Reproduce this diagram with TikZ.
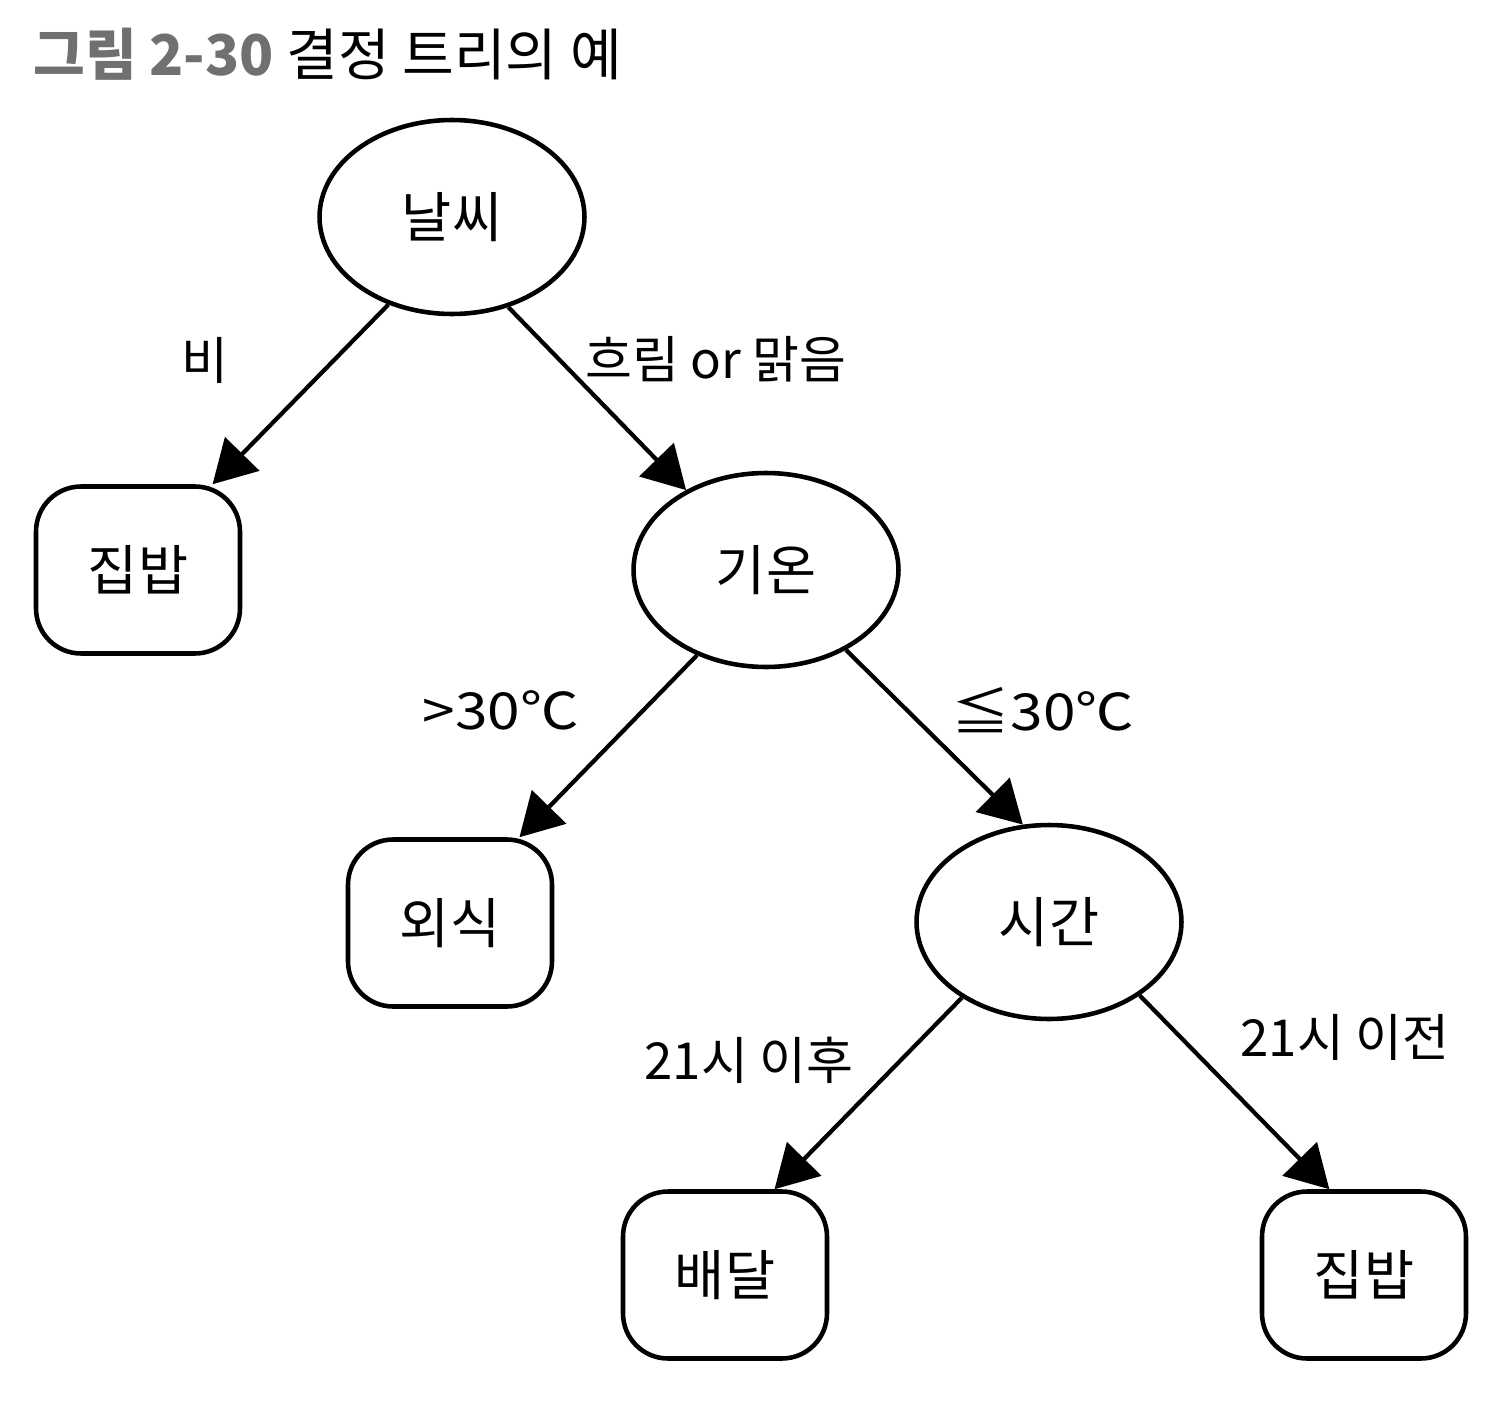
\documentclass[tikz,border=0pt]{standalone}
\usepackage{fontspec}
\setmainfont{Noto Sans CJK KR}
\usetikzlibrary{arrows.meta,shapes.geometric}
\definecolor{titlegray}{RGB}{112,112,112}
\tikzset{
  test/.style={ellipse, draw, line width=2.6pt, inner sep=0pt,
    minimum width=5.3cm, minimum height=3.88cm,
    font=\fontsize{31}{36}\selectfont},
  leaf/.style={rectangle, draw, line width=2.6pt, rounded corners=0.9cm,
    inner sep=0pt, minimum width=4.08cm, minimum height=3.34cm,
    font=\fontsize{31}{36}\selectfont},
  cond/.style={inner sep=0pt, font=\fontsize{29}{33}\selectfont},
  branch/.style={line width=2.4pt, -{Triangle[length=0.85cm,width=0.95cm]}}
}
\begin{document}
\begin{tikzpicture}[x=0.02cm, y=-0.02cm]
  \useasboundingbox (0,0) rectangle (1512,1406);
  \node[anchor=base west, inner sep=0pt, font=\fontsize{32}{36}\selectfont] (title)
    at (33,76) {\textcolor{titlegray}{\textbf{그림 2-30}} 결정 트리의 예};
  \draw
    (452,217) node[test] (0){날씨}
    (138,570) node[leaf] (1){집밥}
    (766,570) node[test] (2){기온}
    (450,923) node[leaf] (3){외식}
    (1049,922) node[test] (4){시간}
    (725,1275) node[leaf] (5){배달}
    (1364,1275) node[leaf] (6){집밥};
  \draw
    (205,360) node[cond] (c1){비}
    (716,359) node[cond] (c2){흐림 or 맑음}
    (501,710) node[cond] (c3){\scalebox{1.15}[1]{>30℃}}
    (1043,710) node[cond] (c4){\scalebox{1.15}[1]{≦30℃}}
    (749,1060) node[cond] (c5){21시 이후}
    (1345,1037) node[cond] (c6){21시 이전};
  \begin{scope}[branch]
    \draw (0.234.6) to (1.49.9);
    \draw (0.302) to (2.135);
    \draw (2.231.5) to (3.51.7);
    \draw (2.315.7) to (4.105);
    \draw (4.221.7) to (5.60);
    \draw (4.321.4) to (6.112);
  \end{scope}
\end{tikzpicture}
\end{document}
